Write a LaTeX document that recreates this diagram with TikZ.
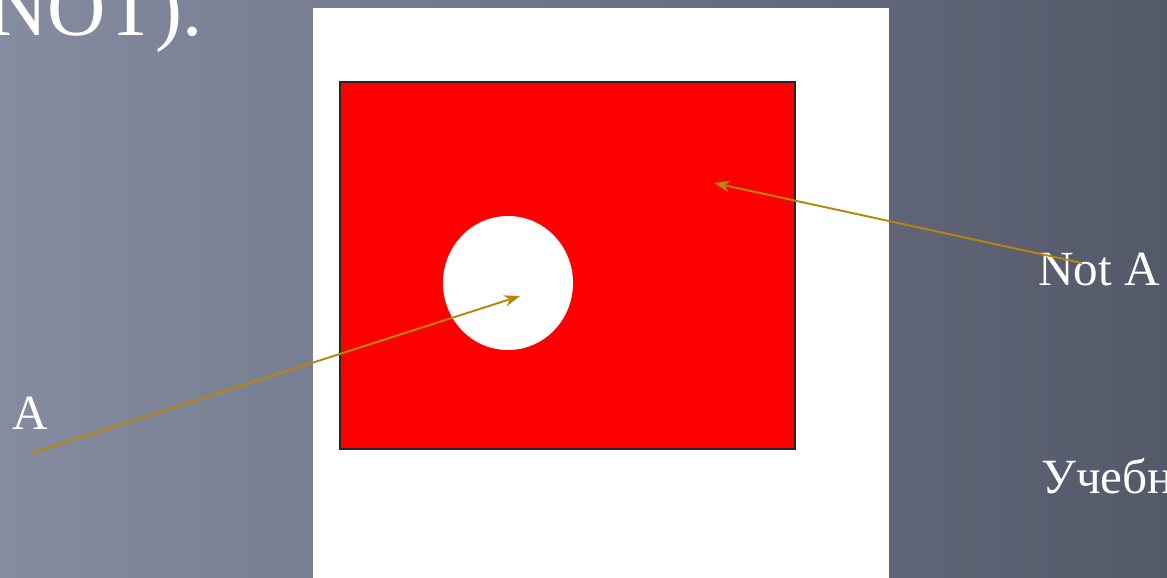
\documentclass[tikz,border=0pt]{standalone}
\usepackage{fontspec}
\setmainfont{Liberation Serif}
\usepackage{tikz}
\usetikzlibrary{arrows.meta,positioning}
\definecolor{fondoA}{RGB}{134,140,160}
\definecolor{fondoB}{RGB}{84,89,106}
\definecolor{flecha}{RGB}{184,134,11}
\tikzset{
  conjunto/.style={fill=red,draw=black!85,line width=1.6pt},
  hueco/.style={fill=white,draw=none},
  flechita/.style={-{Stealth[length=9pt,width=6.5pt]},draw=flecha,line width=1.1pt},
  etiq/.style={text=white,font=\fontsize{28}{32}\selectfont,inner sep=0pt,anchor=base west}
}

\begin{document}
\begin{tikzpicture}[x=0.02cm,y=-0.02cm]
\useasboundingbox (0,0) rectangle (1167,578);
\shade[left color=fondoA,right color=fondoB] (0,0) rectangle (1167,578);
% titulo cortado arriba
\node[etiq,anchor=base east,font=\fontsize{46}{50}\selectfont] (titulo) at (203,35) {NOT).};
% hoja blanca con el conjunto
\fill[white] (313,8) rectangle (889,578);
\draw[conjunto] (340,82) rectangle (795,449);
\fill[hueco] (508,283) ellipse [x radius=65,y radius=67];
\node[etiq] (etA) at (12,429) {A};
\node[etiq] (etNotA) at (1038,285) {Not A};
\node[etiq] (etUch) at (1041,493) {Учебн};
\coordinate (colaA) at (32,453);
\coordinate (puntaA) at (520,296);
\coordinate (colaNot) at (1082,263);
\coordinate (puntaNot) at (714,183);
\draw[flechita] (colaA) -- (puntaA);
\draw[flechita] (colaNot) -- (puntaNot);
\end{tikzpicture}
\end{document}
